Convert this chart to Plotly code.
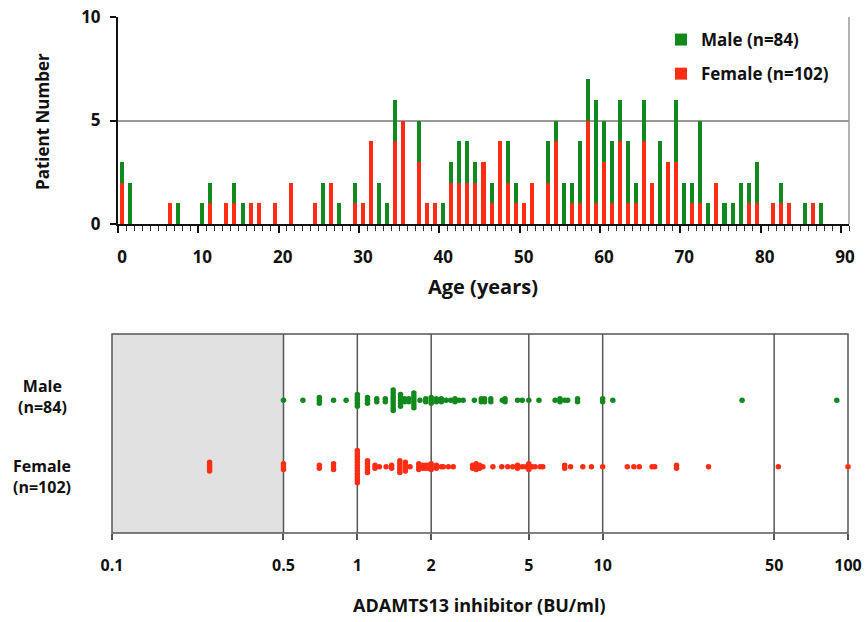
import plotly.graph_objects as go

# ---------------- data ----------------
ages = list(range(0, 90))
male_counts_by_age = {0: 1, 1: 2, 7: 1, 10: 1, 11: 1, 14: 1, 15: 1, 25: 2, 27: 1, 29: 1, 32: 2, 33: 1,
                      34: 2, 37: 2, 40: 1, 41: 1, 42: 2, 43: 2, 44: 1, 46: 1, 48: 2, 49: 1, 53: 2, 54: 1,
                      55: 2, 56: 1, 57: 3, 58: 2, 59: 5, 60: 2, 61: 3, 62: 2, 63: 3, 64: 1, 65: 2, 67: 4,
                      69: 3, 70: 2, 71: 1, 72: 4, 73: 1, 75: 1, 76: 1, 77: 2, 78: 1, 79: 2, 82: 1, 85: 1, 87: 1}
female_counts_by_age = {0: 2, 6: 1, 11: 1, 13: 1, 14: 1, 16: 1, 17: 1, 19: 1, 21: 2, 24: 1, 26: 2, 29: 1,
                        30: 1, 31: 4, 34: 4, 35: 5, 37: 3, 38: 1, 39: 1, 41: 2, 42: 2, 43: 2, 44: 2, 45: 3,
                        46: 1, 47: 4, 48: 2, 49: 1, 50: 1, 51: 2, 53: 2, 54: 4, 56: 1, 57: 1, 58: 5, 59: 1,
                        60: 3, 61: 1, 62: 4, 63: 1, 64: 1, 65: 4, 66: 2, 68: 3, 69: 3, 71: 1, 72: 1, 74: 2,
                        78: 1, 79: 1, 81: 1, 82: 1, 83: 1, 86: 1}
male_per_age = [male_counts_by_age.get(a, 0) for a in ages]
female_per_age = [female_counts_by_age.get(a, 0) for a in ages]

# ADAMTS13 inhibitor titres (BU/ml) and number of patients at each value
male_inhib_values = [0.5, 0.6, 0.7, 0.8, 0.9, 1.0, 1.1, 1.2, 1.3, 1.4, 1.5, 1.56, 1.62, 1.7, 1.8, 1.9,
                     2.0, 2.1, 2.2, 2.3, 2.4, 2.5, 2.6, 2.7, 3.0, 3.2, 3.3, 3.5, 3.9, 4.0, 4.5, 4.7,
                     5.0, 5.5, 6.4, 6.7, 7.0, 7.2, 7.9, 10, 11, 37, 90]
male_inhib_counts = [1, 1, 3, 1, 1, 5, 3, 2, 2, 8, 5, 2, 2, 6, 1, 2,
                     3, 2, 2, 1, 1, 2, 1, 1, 1, 2, 2, 2, 1, 2, 1, 1,
                     1, 1, 1, 2, 1, 1, 2, 2, 1, 1, 1]
female_inhib_values = [0.25, 0.5, 0.7, 0.8, 1.0, 1.1, 1.18, 1.23, 1.31, 1.38, 1.49, 1.57, 1.64, 1.78,
                       1.85, 1.9, 1.95, 2.0, 2.1, 2.2, 2.24, 2.35, 2.46, 2.95, 3.05, 3.15, 3.25, 3.57,
                       3.88, 4.1, 4.3, 4.5, 4.7, 4.85, 5.0, 5.15, 5.3, 5.56, 5.7, 7.0, 7.4, 8.3, 9.0,
                       10, 12.6, 13.4, 14.1, 15.9, 16.3, 20, 27, 52, 100]
female_inhib_counts = [4, 3, 2, 3, 12, 5, 2, 1, 1, 2, 5, 4, 1, 3,
                       2, 2, 2, 3, 2, 1, 1, 1, 1, 2, 3, 2, 1, 1,
                       1, 1, 1, 2, 1, 1, 3, 1, 1, 1, 1, 2, 1, 1, 1,
                       1, 1, 1, 1, 1, 1, 2, 1, 1, 1]

age_tick_labels = ["0", "10", "20", "30", "40", "50", "60", "70", "80", "90"]
inhib_tick_vals = [0.1, 0.5, 1, 2, 5, 10, 50, 100]
inhib_tick_text = ["0.1", "0.5", "1", "2", "5", "10", "50", "100"]

# ---------------- styling ----------------
GREEN = "#12891c"
RED = "#ff2d14"
FONT = "Open Sans"
W, H = 865, 622


def px_x(p):
    return p / W


def px_y(p):
    return 1 - p / H


fig = go.Figure()

# stacked bars: male drawn on top of female (base = female count), male listed first in legend
fig.add_trace(go.Bar(x=ages, y=male_per_age, base=female_per_age,
                     marker=dict(color=GREEN, line=dict(width=0)), width=0.5,
                     name="Male (n=84)", xaxis="x", yaxis="y", legendgroup="m"))
fig.add_trace(go.Bar(x=ages, y=female_per_age, marker=dict(color=RED, line=dict(width=0)), width=0.5,
                     name="Female (n=102)", xaxis="x", yaxis="y", legendgroup="f"))


# dot plot: stack identical values vertically (computed from counts)
def stack(values, counts, base, step):
    xs, ys = [], []
    for v, n in zip(values, counts):
        for i in range(n):
            xs.append(v)
            ys.append(base + (i - (n - 1) / 2) * step)
    return xs, ys


STEP = 0.044
mx, my = stack(male_inhib_values, male_inhib_counts, 2.0, STEP)
fx, fy = stack(female_inhib_values, female_inhib_counts, 1.0, STEP)
fig.add_trace(go.Scatter(x=mx, y=my, mode="markers", marker=dict(color=GREEN, size=5.5),
                         xaxis="x2", yaxis="y2", showlegend=False, cliponaxis=False))
fig.add_trace(go.Scatter(x=fx, y=fy, mode="markers", marker=dict(color=RED, size=5.5),
                         xaxis="x2", yaxis="y2", showlegend=False, cliponaxis=False))

top_dom_x = [px_x(118), px_x(849)]
top_dom_y = [px_y(224), px_y(17)]
bot_dom_x = [px_x(112), px_x(848)]
bot_dom_y = [px_y(533), px_y(334)]

tickfont = dict(family=FONT, size=17, color="#111", weight="bold")

fig.update_layout(
    width=W, height=H, margin=dict(l=0, r=0, t=0, b=0, autoexpand=False),
    paper_bgcolor="white", plot_bgcolor="rgba(0,0,0,0)",
    barmode="overlay", bargap=0,
    font=dict(family=FONT, color="#111"),
    xaxis=dict(domain=top_dom_x, range=[-0.5, 90.5], anchor="y", automargin=False,
               tickmode="array", tickvals=[-0.5 + 10 * k for k in range(10)], ticktext=age_tick_labels,
               ticklabelshift=4, ticklabelstandoff=10, ticklabeloverflow="allow",
               ticks="outside", ticklen=7, tickwidth=2, tickcolor="#111",
               minor=dict(ticks="outside", ticklen=5, tickwidth=1, tickcolor="#333", tick0=-0.5, dtick=1,
                          showgrid=False),
               showline=True, linecolor="#111", linewidth=2, showgrid=False, zeroline=False,
               tickfont=tickfont),
    yaxis=dict(domain=top_dom_y, range=[0, 10], anchor="x", tickvals=[0, 5, 10], automargin=False,
               ticks="outside", ticklen=6, tickwidth=1.5, tickcolor="#111", ticklabeloverflow="allow",
               showline=True, linecolor="#111", linewidth=2, showgrid=True, gridcolor="#9a9a9a",
               gridwidth=1.5, zeroline=False, tickfont=tickfont, ticklabelstandoff=6),
    xaxis2=dict(domain=bot_dom_x, type="log", range=[-1, 2], anchor="y2", automargin=False,
                tickmode="array", tickvals=inhib_tick_vals, ticktext=inhib_tick_text,
                ticklabeloverflow="allow",
                ticks="outside", ticklen=6, tickwidth=1.5, tickcolor="#555",
                showgrid=False, showline=False, zeroline=False,
                tickfont=dict(family=FONT, size=16, color="#111", weight="bold"), ticklabelstandoff=12),
    yaxis2=dict(domain=bot_dom_y, range=[0, 3], anchor="x2", showticklabels=False, ticks="",
                automargin=False, showgrid=False, zeroline=False, showline=False),
    legend=dict(x=px_x(661), y=px_y(22), xanchor="left", yanchor="top", bgcolor="rgba(0,0,0,0)",
                font=dict(family=FONT, size=17, color="#111", weight="bold"), tracegroupgap=9,
                itemwidth=30, traceorder="grouped"),
)

shapes = []
# top plot: gray right border
shapes.append(dict(type="line", xref="x domain", yref="y domain", x0=1, x1=1, y0=0, y1=1,
                   line=dict(color="#9a9a9a", width=1.5)))
# bottom plot: shaded sub-detection region
shapes.append(dict(type="rect", xref="x2", yref="y2 domain", x0=0.1, x1=0.5, y0=0, y1=1,
                   fillcolor="#e1e1e1", line=dict(width=0), layer="below"))
for v in [0.5, 1, 2, 5, 10, 50]:
    shapes.append(dict(type="line", xref="x2", yref="y2 domain", x0=v, x1=v, y0=0, y1=1,
                       line=dict(color="#555", width=1.5), layer="below"))
shapes.append(dict(type="rect", xref="x2 domain", yref="y2 domain", x0=0, x1=1, y0=0, y1=1,
                   line=dict(color="#555", width=1.5), layer="below"))
fig.update_layout(shapes=shapes)

bold = dict(family=FONT, color="#111", weight="bold")
annotations = [
    dict(text="Patient Number", x=px_x(42), y=px_y(122), xref="paper", yref="paper", textangle=-90,
         showarrow=False, font=dict(size=17, **bold), xanchor="center", yanchor="middle"),
    dict(text="Age (years)", x=px_x(483), y=px_y(287), xref="paper", yref="paper",
         showarrow=False, font=dict(size=20, **bold), xanchor="center", yanchor="middle"),
    dict(text="ADAMTS13 inhibitor (BU/ml)", x=px_x(480), y=px_y(605), xref="paper", yref="paper",
         showarrow=False, font=dict(size=18, **bold), xanchor="center", yanchor="middle"),
    dict(text="Male<br>(n=84)", x=px_x(42), y=px_y(397), xref="paper", yref="paper", align="center",
         showarrow=False, font=dict(size=16, **bold), xanchor="center", yanchor="middle"),
    dict(text="Female<br>(n=102)", x=px_x(42), y=px_y(476), xref="paper", yref="paper", align="center",
         showarrow=False, font=dict(size=16, **bold), xanchor="center", yanchor="middle"),
]
fig.update_layout(annotations=annotations)

fig.write_html("out.html", config={"displayModeBar": False},
               post_script="document.body.style.margin='0';document.body.style.overflow='hidden';")
